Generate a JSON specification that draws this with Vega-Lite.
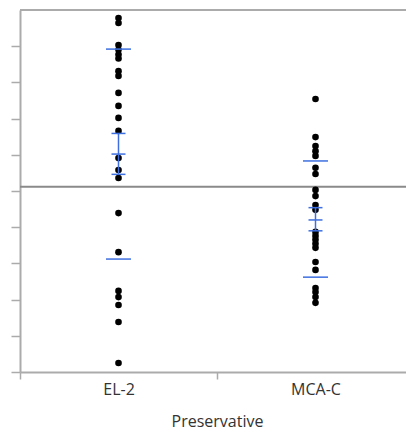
{
  "$schema": "https://vega.github.io/schema/vega-lite/v6.json",
  "width": 386,
  "height": 362,
  "autosize": "none",
  "padding": {"left": 20, "top": 10, "right": 0, "bottom": 60},
  "background": "white",
  "config": {
    "view": {"stroke": null},
    "font": "Open Sans"
  },
  "datasets": {
    "points": [
      {"Preservative": "EL-2", "value": 9.78},
      {"Preservative": "EL-2", "value": 9.64},
      {"Preservative": "EL-2", "value": 9.03},
      {"Preservative": "EL-2", "value": 8.90},
      {"Preservative": "EL-2", "value": 8.77},
      {"Preservative": "EL-2", "value": 8.66},
      {"Preservative": "EL-2", "value": 8.31},
      {"Preservative": "EL-2", "value": 8.18},
      {"Preservative": "EL-2", "value": 7.71},
      {"Preservative": "EL-2", "value": 7.35},
      {"Preservative": "EL-2", "value": 7.02},
      {"Preservative": "EL-2", "value": 6.66},
      {"Preservative": "EL-2", "value": 5.91},
      {"Preservative": "EL-2", "value": 5.58},
      {"Preservative": "EL-2", "value": 5.36},
      {"Preservative": "EL-2", "value": 4.39},
      {"Preservative": "EL-2", "value": 3.31},
      {"Preservative": "EL-2", "value": 2.24},
      {"Preservative": "EL-2", "value": 2.07},
      {"Preservative": "EL-2", "value": 1.85},
      {"Preservative": "EL-2", "value": 1.38},
      {"Preservative": "EL-2", "value": 0.25},
      {"Preservative": "MCA-C", "value": 7.54},
      {"Preservative": "MCA-C", "value": 6.49},
      {"Preservative": "MCA-C", "value": 6.24},
      {"Preservative": "MCA-C", "value": 6.10},
      {"Preservative": "MCA-C", "value": 5.97},
      {"Preservative": "MCA-C", "value": 5.64},
      {"Preservative": "MCA-C", "value": 5.47},
      {"Preservative": "MCA-C", "value": 5.03},
      {"Preservative": "MCA-C", "value": 4.86},
      {"Preservative": "MCA-C", "value": 4.61},
      {"Preservative": "MCA-C", "value": 4.48},
      {"Preservative": "MCA-C", "value": 3.87},
      {"Preservative": "MCA-C", "value": 3.76},
      {"Preservative": "MCA-C", "value": 3.65},
      {"Preservative": "MCA-C", "value": 3.54},
      {"Preservative": "MCA-C", "value": 3.43},
      {"Preservative": "MCA-C", "value": 3.04},
      {"Preservative": "MCA-C", "value": 2.82},
      {"Preservative": "MCA-C", "value": 2.32},
      {"Preservative": "MCA-C", "value": 2.21},
      {"Preservative": "MCA-C", "value": 2.07},
      {"Preservative": "MCA-C", "value": 1.91}
    ],
    "stats": [
      {"Preservative": "EL-2", "lo_sd": 3.12, "lo_se": 5.46, "mean": 6.02, "hi_se": 6.59, "hi_sd": 8.92},
      {"Preservative": "MCA-C", "lo_sd": 2.62, "lo_se": 3.90, "mean": 4.20, "hi_se": 4.54, "hi_sd": 5.83}
    ],
    "grand": [{"grand_mean": 5.12, "top": 10}]
  },
  "layer": [
    {
      "data": {"name": "grand"},
      "mark": {"type": "rule", "color": "#ababab", "strokeWidth": 2},
      "encoding": {"y": {"field": "top", "type": "quantitative"}}
    },
    {
      "data": {"name": "grand"},
      "mark": {"type": "rule", "color": "#8a8a8a", "strokeWidth": 2},
      "encoding": {"y": {"field": "grand_mean", "type": "quantitative"}}
    },
    {
      "data": {"name": "points"},
      "mark": {"type": "circle", "color": "black", "opacity": 1, "size": 44},
      "encoding": {
        "x": {
          "field": "Preservative",
          "type": "nominal",
          "scale": {"range": [0, 394], "paddingInner": 0, "paddingOuter": 0},
          "axis": {
            "tickBand": "extent",
            "labelAngle": 0,
            "labelFontSize": 16,
            "labelColor": "#333333",
            "labelPadding": 2,
            "tickSize": 7,
            "tickColor": "#ababab",
            "tickWidth": 1.5,
            "domainColor": "#ababab",
            "domainWidth": 2,
            "titleFontSize": 16,
            "titleFontWeight": "normal",
            "titleColor": "#333333",
            "titlePadding": 16
          }
        },
        "y": {
          "field": "value",
          "type": "quantitative",
          "scale": {"domain": [0, 10], "nice": false, "zero": false},
          "axis": {
            "title": null,
            "labels": false,
            "grid": false,
            "values": [0, 1, 2, 3, 4, 5, 6, 7, 8, 9],
            "tickSize": 9,
            "tickColor": "#ababab",
            "tickWidth": 1.5,
            "domainColor": "#ababab",
            "domainWidth": 2
          }
        }
      }
    },
    {
      "data": {"name": "stats"},
      "mark": {"type": "rule", "color": "#3d6fe0", "strokeWidth": 1.5},
      "encoding": {
        "x": {"field": "Preservative", "type": "nominal"},
        "y": {"field": "lo_se", "type": "quantitative"},
        "y2": {"field": "hi_se"}
      }
    },
    {
      "data": {"name": "stats"},
      "transform": [{"fold": ["lo_se", "mean", "hi_se"], "as": ["stat", "v"]}],
      "mark": {"type": "tick", "color": "#3d6fe0", "size": 14, "thickness": 1.5, "opacity": 1},
      "encoding": {
        "x": {"field": "Preservative", "type": "nominal"},
        "y": {"field": "v", "type": "quantitative"}
      }
    },
    {
      "data": {"name": "stats"},
      "transform": [{"fold": ["lo_sd", "hi_sd"], "as": ["stat", "v"]}],
      "mark": {"type": "tick", "color": "#3d6fe0", "size": 25, "thickness": 1.5, "opacity": 1},
      "encoding": {
        "x": {"field": "Preservative", "type": "nominal"},
        "y": {"field": "v", "type": "quantitative"}
      }
    }
  ]
}
